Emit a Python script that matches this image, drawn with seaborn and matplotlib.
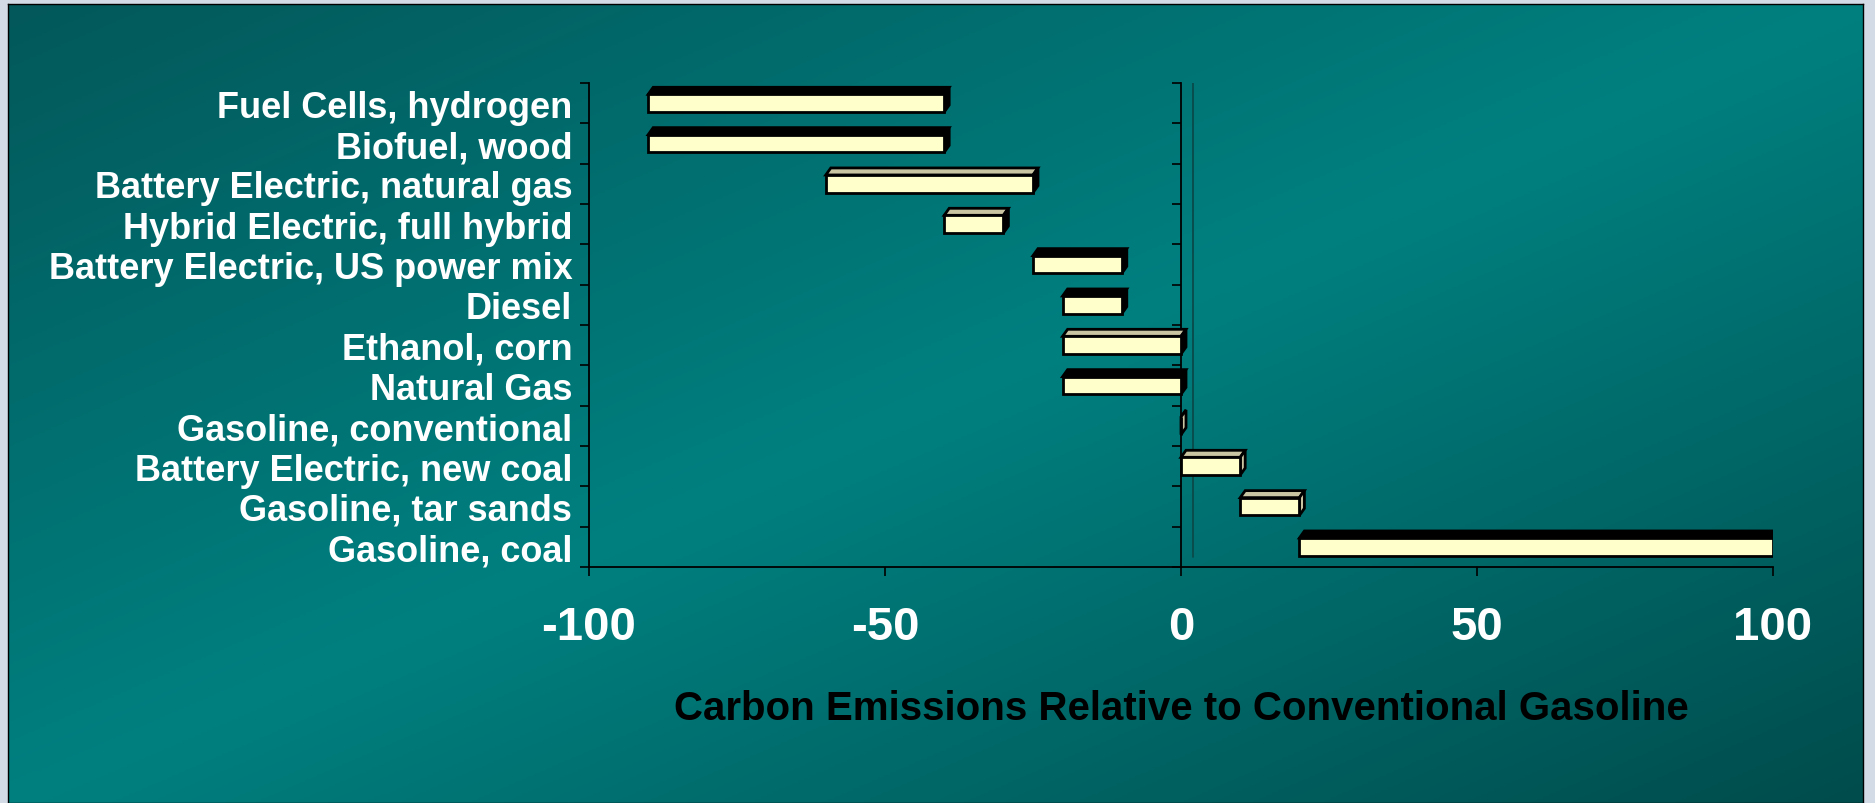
import numpy as np
import pandas as pd
import matplotlib
matplotlib.use("Agg")
import matplotlib.pyplot as plt
import seaborn as sns
from matplotlib import font_manager
from matplotlib.colors import LinearSegmentedColormap
from matplotlib.patches import Polygon
from matplotlib.transforms import ScaledTranslation

# data
categories = [
    "Fuel Cells, hydrogen",
    "Biofuel, wood",
    "Battery Electric, natural gas",
    "Hybrid Electric, full hybrid",
    "Battery Electric, US power mix",
    "Diesel",
    "Ethanol, corn",
    "Natural Gas",
    "Gasoline, conventional",
    "Battery Electric, new coal",
    "Gasoline, tar sands",
    "Gasoline, coal",
]
low = [-90, -90, -60, -40, -25, -20, -20, -20, 0, 0, 10, 20]
high = [-40, -40, -25, -30, -10, -10, 0, 0, 0, 10, 20, 100]
x_ticks = [-100, -50, 0, 50, 100]
x_title = "Carbon Emissions Relative to Conventional Gasoline"

# how the old 3d chart shaded the top and side faces of each bar
top_dark = [True, True, False, False, True, True, False, True, False, False, False, True]
side_dark = [True, True, True, True, True, True, True, True, False, False, False, False]

FACE = "#FFFFCC"
TAN = "#C9C5A2"
EDGE_W = 2.0

sns.set_theme(style="ticks")
names = {f.name for f in font_manager.fontManager.ttflist}
if "Liberation Sans Narrow" in names:
    plt.rcParams["font.family"] = ["Liberation Sans Narrow", "DejaVu Sans"]
    ylab_size, xlab_size, title_size = 30, 40, 33
else:
    plt.rcParams["font.family"] = ["Liberation Sans", "DejaVu Sans"]
    ylab_size, xlab_size, title_size = 26, 34, 29

W, H = 1875, 804
fig = plt.figure(figsize=(W / 100, H / 100), dpi=100, facecolor="#D3DBE6")

# teal gradient panel
bg = fig.add_axes([8 / W, 0, 1855 / W, 799 / H], zorder=0)
yy, xx = np.mgrid[0:1:300j, 0:1:600j]
cmap = LinearSegmentedColormap.from_list(
    "teal", [(0, "#03585A"), (0.5, "#008080"), (1, "#004C4C")])
bg.imshow((xx + yy) / 2, cmap=cmap, aspect="auto", extent=[0, 1, 0, 1],
          interpolation="bilinear")
bg.set_xticks([])
bg.set_yticks([])
for s in bg.spines.values():
    s.set_color("black")
    s.set_linewidth(1)

ax = fig.add_axes([589 / W, 1 - 568 / H, 1184 / W, 484 / H], zorder=1)
ax.set_facecolor("none")

df = pd.DataFrame({"category": categories,
                   "span": np.array(high) - np.array(low)})
sns.barplot(data=df, y="category", x="span", orient="h", width=0.44,
            color=FACE, saturation=1, edgecolor="black", linewidth=EDGE_W, ax=ax)
for patch, lo in zip(ax.patches, low):
    patch.set_x(lo)
    patch.set_zorder(3)
    patch.set_joinstyle("miter")

ax.set_xlim(-100, 100)
ax.set_ylim(len(categories) - 0.5, -0.5)

# depth of the 3d faces, in pixels turned into data units
dx = 5 * 200 / ax.bbox.width
dy = 7 * len(categories) / ax.bbox.height
for patch, td, sd in zip(ax.patches, top_dark, side_dark):
    x0 = patch.get_x()
    x1 = x0 + patch.get_width()
    yt = patch.get_y()
    yb = yt + patch.get_height()
    top = Polygon([(x0, yt), (x1, yt), (x1 + dx, yt - dy), (x0 + dx, yt - dy)],
                  closed=True, facecolor="black" if td else TAN,
                  edgecolor="black", linewidth=EDGE_W, zorder=2, joinstyle="miter")
    side = Polygon([(x1, yt), (x1 + dx, yt - dy), (x1 + dx, yb - dy), (x1, yb)],
                   closed=True, facecolor="black" if sd else TAN,
                   edgecolor="black", linewidth=EDGE_W, zorder=2, joinstyle="miter")
    ax.add_patch(top)
    ax.add_patch(side)

# back wall line at zero
shift = ScaledTranslation(12 / 100, 10 / 100, fig.dpi_scale_trans)
ax.plot([0, 0], [len(categories) - 0.5, -0.5], color="#0B4A4A", lw=1.3,
        transform=ax.transData + shift, scalex=False, scaley=False, zorder=1)

# axes, ticks, labels
for side_name in ["top", "right"]:
    ax.spines[side_name].set_visible(False)
for side_name in ["left", "bottom"]:
    ax.spines[side_name].set_color("black")
    ax.spines[side_name].set_linewidth(1.3)

ax.set_xticks(x_ticks, [str(v) for v in x_ticks])
ax.set_yticks(np.arange(-0.5, len(categories)), minor=True)
ax.tick_params(axis="x", length=6.5, width=1.2, color="black", pad=21,
               labelsize=xlab_size, labelcolor="white", bottom=True)
ax.tick_params(axis="y", which="major", length=0, pad=12,
               labelsize=ylab_size, labelcolor="white", left=True)
ax.tick_params(axis="y", which="minor", length=6.5, width=1.2,
               color="black", direction="out", left=True)
for lab in ax.get_xticklabels() + ax.get_yticklabels():
    lab.set_fontweight("bold")

sec = ax.secondary_yaxis(0.5)
sec.set_alignment("left")
sec.set_yticks(np.arange(-0.5, len(categories)), labels=[])
sec.tick_params(length=6.5, width=1.2, color="black", direction="out")
sec.spines["left"].set_color("black")
sec.spines["left"].set_linewidth(1.3)

ax.set_ylabel("")
ax.set_xlabel(x_title, fontsize=title_size, fontweight="bold", color="black")
ax.xaxis.set_label_coords(0.5, -0.292)
ax.xaxis.label.set_va("center")

fig.savefig("out.png", dpi=100, facecolor=fig.get_facecolor())
